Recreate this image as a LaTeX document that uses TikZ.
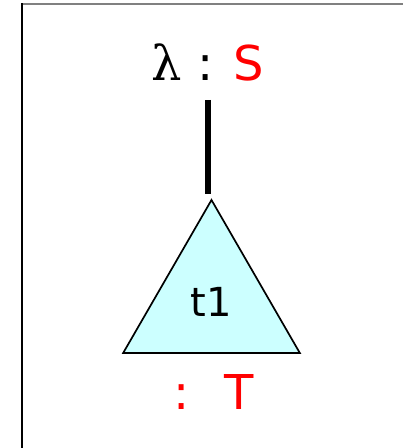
\documentclass[tikz,border=0pt]{standalone}
\usepackage{fontspec}
\setmainfont{DejaVu Sans}
\newfontfamily\greekfont{DejaVu Serif}
\usepackage{xcolor}
\usetikzlibrary{shapes.geometric}
\definecolor{ink}{HTML}{000000}
\definecolor{typered}{HTML}{FF0000}
\definecolor{treefill}{HTML}{CCFFFF}
\definecolor{framegray}{HTML}{808080}

\begin{document}
\begin{tikzpicture}[
  x=1pt,y=1pt,
  label/.style={font=\fontsize{48}{56}\selectfont,inner sep=0pt,anchor=base},
  subtree/.style={regular polygon,regular polygon sides=3,draw=ink,line width=1.7pt,fill=treefill,minimum size=204pt,inner sep=0pt,font=\fontsize{40}{48}\selectfont},
  stem/.style={line width=5.5pt,draw=ink}
]
\useasboundingbox (0,0) rectangle (403,448);
% frame
\draw[framegray,line width=1.8pt] (22,444) -- (403,444);
\draw[ink,line width=1.5pt] (22,444.9) -- (22,0);

\node[label] (lam) at (208,367) {{\greekfont λ} : \textcolor{typered}{S}};
\node[subtree] (tree) at (211.5,146) {t1};
\node[label,text=typered] (type) at (214,38) {:\hspace{0.72em}T};

\draw[stem] ([yshift=-19pt]lam.base) -- ([yshift=4pt]lam.base |- tree.corner 1);
\end{tikzpicture}
\end{document}
